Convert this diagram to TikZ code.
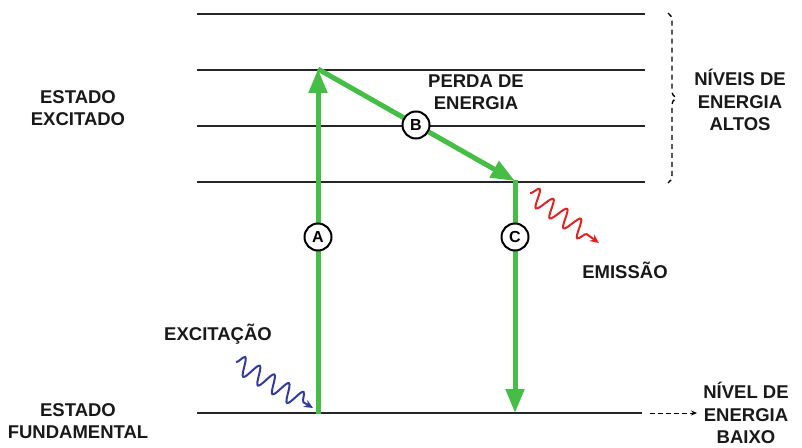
\documentclass[tikz,border=0pt]{standalone}
\usepackage{fontspec}
\setmainfont{Liberation Sans}
\usetikzlibrary{arrows.meta,decorations.pathmorphing,decorations.pathreplacing,calc}
\definecolor{grn}{RGB}{70,190,70}
\definecolor{wblue}{RGB}{50,60,160}
\definecolor{wred}{RGB}{225,35,35}
\tikzset{
  level/.style={line width=1.7pt,black!85},
  trans/.style={line width=5pt,grn,-{Triangle[length=24pt,width=18pt]}},
  lab/.style={font=\bfseries\fontsize{18.5}{22.5}\selectfont,align=center,text=black!90,inner sep=0pt},
  circ/.style={circle,draw=black,line width=2pt,fill=white,inner sep=0pt,minimum size=27pt,font=\bfseries\fontsize{16}{16}\selectfont},
  wave/.style={line width=2pt,decorate,decoration={snake,amplitude=9pt,segment length=17pt,post length=10pt},-{Stealth[length=9pt,width=8pt]}}
}
\begin{document}
\begin{tikzpicture}[x=1pt,y=-1pt]
\useasboundingbox (0,0) rectangle (802,447);
% levels
\coordinate (l1a) at (197,14); \coordinate (l1b) at (645,14);
\coordinate (l2a) at (197,70); \coordinate (l2b) at (645,70);
\coordinate (l3a) at (197,126); \coordinate (l3b) at (645,126);
\coordinate (l4a) at (197,182); \coordinate (l4b) at (645,182);
\coordinate (l0a) at (197,413); \coordinate (l0b) at (642,413);
\draw[level] (l1a) -- (l1b);
\draw[level] (l2a) -- (l2b);
\draw[level] (l3a) -- (l3b);
\draw[level] (l4a) -- (l4b);
\draw[level] (l0a) -- (l0b);
% transitions
\coordinate (a0) at (318,414);
\coordinate (a1) at (318,69);
\coordinate (c0) at (515,181);
\coordinate (c1) at (515,413);
\draw[trans] (a0) -- (a1);
\draw[trans] (a1) -- (c0);
\draw[line width=5pt,grn] (c0) -- ($(c0)+(0,-1)$);
\draw[trans] (c0) -- (c1);
\node[circ] (A) at (318,237) {A};
\node[circ] (B) at (416,125) {B};
\node[circ] (C) at (515,237) {C};
% waves
\coordinate (w1s) at (236,362);
\coordinate (w1e) at (313,408);
\draw[wave,wblue] (w1s) -- (w1e);
\coordinate (w2s) at (530,193);
\coordinate (w2e) at (599,243);
\draw[wave,wred] (w2s) -- (w2e);
% brace
\coordinate (b1) at (668,183);
\coordinate (b2) at (668,13);
\draw[line width=1.4pt,dash pattern=on 5pt off 4pt,decorate,decoration={brace,amplitude=8pt}] (b2) -- (b1);
% labels
\node[lab] (ee) at (78,108) {ESTADO\\EXCITADO};
\node[lab] (pe) at (476,92) {PERDA DE\\ENERGIA};
\node[lab] (na) at (740,100) {NÍVEIS DE\\ENERGIA\\ALTOS};
\node[lab] (em) at (625,270) {EMISSÃO};
\node[lab] (ex) at (218,334) {EXCITAÇÃO};
\node[lab] (ef) at (78,421) {ESTADO\\FUNDAMENTAL};
\node[lab] (nb) at (746,413) {NÍVEL DE\\ENERGIA\\BAIXO};
\coordinate (d0) at (650,413);
\coordinate (d1) at (697,413);
\draw[line width=1pt,dash pattern=on 5pt off 3pt,-{Stealth[length=6pt,width=5pt]}] (d0) -- (d1);
\end{tikzpicture}
\end{document}
